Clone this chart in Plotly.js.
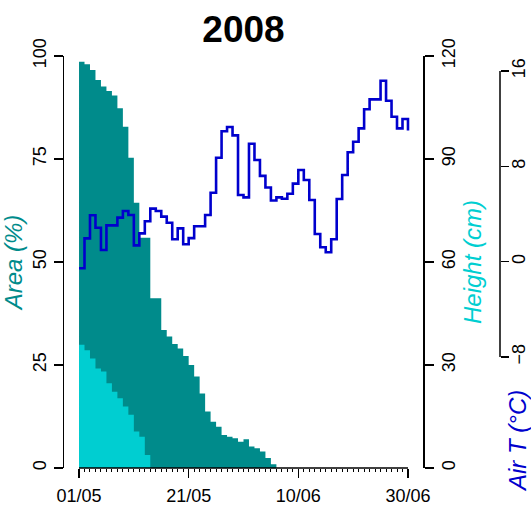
<!DOCTYPE html>
<html>
<head>
<meta charset="utf-8">
<script src="https://cdn.plot.ly/plotly-3.0.1.min.js"></script>
<style>html,body{margin:0;padding:0;background:#fff;}#chart{width:531px;height:505px;}</style>
</head>
<body>
<div id="chart"></div>
<script>
// ---- data (day 0 = 01/05/2008) ----
const tickDays = [0, 20, 40, 60];
const tickLabels = ['01/05', '21/05', '10/06', '30/06'];

// Area (%) - dark teal step fill, one value per day from 01/05
const areaCover = [98.6, 98.0, 96.6, 94.2, 92.6, 91.5, 90.4, 87.3, 82.8, 75.3,
  64.4, 55.9, 55.9, 41.2, 41.2, 33.5, 31.9, 30.1, 29.0, 27.2,
  25.0, 22.2, 18.1, 13.7, 11.2, 10.0, 8.0, 7.6, 7.2, 6.4,
  7.0, 5.2, 4.8, 4.0, 2.4, 0.9];

// Height (cm) - light cyan step fill
const heightCm = [35.9, 34.3, 31.9, 29.0, 28.1, 24.7, 22.2, 20.3, 17.9, 15.5,
  10.6, 9.1, 3.8];

// Air T (°C) - blue step line
const airT = [-0.55, 1.96, 3.9, 2.85, 0.98, 3.05, 3.05, 3.7, 4.25, 3.92,
  1.37, 2.38, 3.4, 4.45, 4.25, 3.78, 3.27, 1.88, 2.8, 1.47,
  1.98, 2.97, 2.97, 3.92, 5.79, 8.72, 10.95, 11.3, 10.6, 5.6,
  5.4, 9.9, 8.53, 7.2, 6.22, 5.13, 5.4, 5.28, 5.7, 6.55,
  7.69, 6.85, 5.18, 2.32, 1.21, 0.79, 1.88, 5.26, 7.27, 9.18,
  10.07, 11.19, 12.79, 13.62, 13.62, 15.18, 13.51, 12.16, 11.19, 11.97,
  11.0];

const areaTicks = [0, 25, 50, 75, 100];
const heightTicks = [0, 30, 60, 90, 120];
const tempTicks = [-8, 0, 8, 16];

// ---- helpers ----
function stepFill(vals) {
  const x = vals.map((_, i) => i);
  const y = vals.slice();
  x.push(vals.length);            // hold the last daily value for its full day
  y.push(vals[vals.length - 1]);
  return {x, y};
}
const dayIdx = airT.map((_, i) => i);

const FONT = 'Liberation Sans, Arial, Helvetica, sans-serif';
const C_AREA = '#008B8B', C_HEIGHT = '#00CED1', C_T = '#0000CD';

const W = 531, H = 505, ML = 64, MR = 0, MT = 56, MB = 37;
const plotW = W - ML - MR;
const D = (423 - ML) / plotW;      // end of x domain (Height axis)
const P3 = (500 - ML) / plotW;     // Air T axis position

const a = stepFill(areaCover);
const h = stepFill(heightCm);

const traces = [
  {x: a.x, y: a.y, type: 'scatter', mode: 'lines', line: {shape: 'hv', width: 0, color: C_AREA},
   fill: 'tozeroy', fillcolor: C_AREA, yaxis: 'y', hoverinfo: 'skip'},
  {x: h.x, y: h.y, type: 'scatter', mode: 'lines', line: {shape: 'hv', width: 0, color: C_HEIGHT},
   fill: 'tozeroy', fillcolor: C_HEIGHT, yaxis: 'y2', hoverinfo: 'skip'},
  {x: dayIdx, y: airT, type: 'scatter', mode: 'lines', line: {shape: 'hv', width: 2.6, color: C_T},
   yaxis: 'y3', hoverinfo: 'skip'}
];

const tickCommon = {ticks: 'outside', ticklen: 9, tickwidth: 1.5, tickcolor: '#000',
  showgrid: false, zeroline: false, tickfont: {family: FONT, size: 18, color: '#000'}};

const layout = {
  width: W, height: H,
  margin: {l: ML, r: MR, t: MT, b: MB, autoexpand: false},
  paper_bgcolor: '#fff', plot_bgcolor: '#fff',
  showlegend: false,
  title: {text: '<b>2008</b>', font: {family: FONT, size: 37, color: '#000'},
    xref: 'container', x: 243.5 / W, xanchor: 'center',
    yref: 'container', y: 1 - 29 / H, yanchor: 'middle'},
  xaxis: Object.assign({}, tickCommon, {
    domain: [0, D], range: [-2.74, 62.74],
    tickmode: 'array', tickvals: tickDays, ticktext: tickLabels,
    showline: false, ticklabelstandoff: 2,
    minor: {tickmode: 'array', tickvals: dayIdx, ticks: 'outside', ticklen: 3, tickwidth: 1, tickcolor: '#000'}
  }),
  yaxis: Object.assign({}, tickCommon, {
    range: [0, 100], tickmode: 'array', tickvals: areaTicks, tickangle: -90,
    showline: true, linewidth: 1.5, linecolor: '#000',
    title: {text: 'Area (%)', font: {family: FONT, size: 24, color: C_AREA, style: 'italic'}, standoff: 4}
  }),
  yaxis2: Object.assign({}, tickCommon, {
    overlaying: 'y', side: 'right', anchor: 'free', position: D,
    range: [0, 120], tickmode: 'array', tickvals: heightTicks, tickangle: -90,
    showline: true, linewidth: 1.5, linecolor: '#000',
    title: {text: 'Height (cm)', font: {family: FONT, size: 24, color: C_HEIGHT, style: 'italic'}, standoff: 5}
  }),
  yaxis3: Object.assign({}, tickCommon, {
    overlaying: 'y', side: 'right', anchor: 'free', position: P3,
    range: [-17.31, 17.26], tickmode: 'array', tickvals: tempTicks, tickangle: -90,
    ticklen: 8, ticklabelstandoff: -6,
    showline: false
  }),
  shapes: [
    {type: 'line', xref: 'x', yref: 'paper', x0: tickDays[0], x1: tickDays[tickDays.length - 1], y0: 0, y1: 0,
     line: {color: '#000', width: 1.5}},
    {type: 'line', xref: 'paper', yref: 'y3', x0: P3, x1: P3, y0: tempTicks[0], y1: tempTicks[tempTicks.length - 1],
     line: {color: '#000', width: 1.5}}
  ],
  annotations: [
    {text: 'Air T (°C)', xref: 'paper', yref: 'paper', x: (517 - ML) / plotW, y: (468 - 441) / (H - MT - MB),
     xanchor: 'center', yanchor: 'middle', textangle: -90, showarrow: false,
     font: {family: FONT, size: 24, color: C_T, style: 'italic'}}
  ]
};

Plotly.newPlot('chart', traces, layout, {displayModeBar: false, staticPlot: true});
</script>
</body>
</html>
